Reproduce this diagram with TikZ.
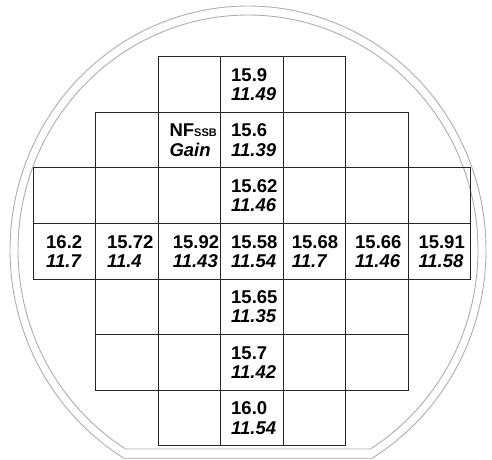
\documentclass[tikz,border=0pt]{standalone}
\usepackage{fontspec}
\setmainfont{Liberation Sans}
\newcommand\cellval[5]{%
  \node[valtop] (top-#2-#1) at ({#3},{56.7+55.6*#2+24.6}) {#4};
  \node[valbot] (bot-#2-#1) at ({#3},{56.7+55.6*#2+43.8}) {#5};}
\begin{document}
\begin{tikzpicture}[x=1pt,y=-1pt,
  cellbox/.style={draw=black!85, line width=1.1pt, rectangle, minimum width=62.5pt,
    minimum height=55.6pt, inner sep=0pt, outer sep=0pt, anchor=north west},
  valtop/.style={anchor=base west, inner sep=0pt, font=\fontsize{18.5}{19}\selectfont\bfseries},
  valbot/.style={anchor=base west, inner sep=0pt, font=\fontsize{18.5}{19}\selectfont\bfseries\itshape},
  wafer/.style={draw=black!32, line width=0.9pt}]
\useasboundingbox (0,0) rectangle (492,459);
% wafer outline (outer and inner, with flat)
\draw[wafer] plot[domain=121.4:418.6, samples=240, smooth] ({248+238*cos(\x)},{250+244*sin(\x)}) -- cycle;
\draw[wafer] plot[domain=122.13:417.87, samples=240, smooth] ({248+230*cos(\x)},{250+235*sin(\x)}) -- cycle;
% die grid
\foreach \r/\c in {0/2,0/3,0/4,
  1/1,1/2,1/3,1/4,1/5,
  2/0,2/1,2/2,2/3,2/4,2/5,2/6,
  3/0,3/1,3/2,3/3,3/4,3/5,3/6,
  4/1,4/2,4/3,4/4,4/5,
  5/1,5/2,5/3,5/4,5/5,
  6/2,6/3,6/4}
  \node[cellbox] (cell-\r-\c) at ({33.3+62.5*\c},{56.7+55.6*\r}) {};
% values
\cellval{3}{0}{231}{15.9}{11.49}
\cellval{2}{1}{169.3}{NF{\fontsize{11}{11}\selectfont SSB}}{Gain}
\cellval{3}{1}{231}{15.6}{11.39}
\cellval{3}{2}{231}{15.62}{11.46}
\cellval{0}{3}{46}{16.2}{11.7}
\cellval{1}{3}{106.9}{15.72}{11.4}
\cellval{2}{3}{172.7}{15.92}{11.43}
\cellval{3}{3}{231}{15.58}{11.54}
\cellval{4}{3}{291.7}{15.68}{11.7}
\cellval{5}{3}{355}{15.66}{11.46}
\cellval{6}{3}{418.3}{15.91}{11.58}
\cellval{3}{4}{231}{15.65}{11.35}
\cellval{3}{5}{231}{15.7}{11.42}
\cellval{3}{6}{231}{16.0}{11.54}
\end{tikzpicture}
\end{document}
